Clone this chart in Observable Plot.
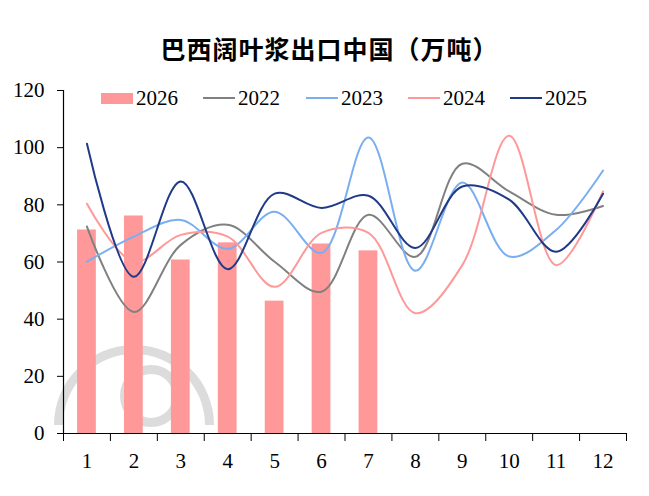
<!DOCTYPE html>
<html>
<head>
<meta charset="utf-8">
<script src="https://cdn.jsdelivr.net/npm/d3@7"></script>
<script src="https://cdn.jsdelivr.net/npm/@observablehq/plot@0.6"></script>
<style>
  html, body { margin: 0; padding: 0; background: white; }
  #wrap { position: relative; width: 649px; height: 496px; overflow: hidden; }
  #title { height: 70px; padding-top: 35px; line-height: 26px; font-family: "Noto Sans CJK SC", sans-serif; font-weight: bold; font-size: 25px; letter-spacing: 1px; text-align: center; padding-left: 10px; box-sizing: border-box; color: #000; position: relative; z-index: 2; }
  .wm { position: absolute; border-style: solid; border-radius: 50%; z-index: 0; box-sizing: border-box; }
  #wm1 { left: 54px; top: 345px; width: 160px; height: 160px; border-width: 9px; border-color: rgba(205,205,205,0.7) rgba(205,205,205,0.7) transparent transparent; transform: rotate(-45deg); }
  #wm2 { left: 120px; top: 365px; width: 62px; height: 62px; border-width: 9px; border-color: rgba(205,205,205,0.7); }
  #chart { position: relative; z-index: 1; }
  #chart svg { background: transparent !important; }
  #legend { position: absolute; top: 86px; left: 0; width: 649px; height: 24px; z-index: 2; font-family: "Liberation Serif", "Times New Roman", serif; font-size: 21px; color: #000; }
  .item { position: absolute; top: 0; height: 24px; display: flex; align-items: center; }
  .sw { width: 32px; margin-right: 3px; }
</style>
</head>
<body>
<div id="wrap">
  <div id="title">巴西阔叶浆出口中国（万吨）</div>
  <div class="wm" id="wm1"></div>
  <div class="wm" id="wm2"></div>
  <div id="legend"></div>
  <div id="chart"></div>
</div>
<script>
const months = [1,2,3,4,5,6,7,8,9,10,11,12];
const seriesNames = ["2026","2022","2023","2024","2025"];
const colors = ["#FF9999","#808080","#7AAEF0","#FF9999","#1F3A87"];
const v2026 = [71.2, 76.1, 60.7, 66.7, 46.3, 66.3, 63.9];
const v2022 = [72.4, 42.5, 66.0, 73.0, 60.1, 49.6, 76.5, 61.8, 94.4, 84.7, 76.5, 79.6];
const v2023 = [60.1, 68.9, 74.7, 64.6, 77.6, 63.2, 103.6, 56.9, 87.8, 61.9, 71.2, 92.0];
const v2024 = [80.4, 60.1, 69.5, 68.9, 51.3, 70.2, 70.2, 42.1, 58.9, 104.2, 58.9, 84.7];
const v2025 = [101.4, 54.8, 88.2, 57.5, 83.9, 78.9, 83.2, 64.9, 86.4, 81.8, 63.6, 83.9];
const yTicks = [0,20,40,60,80,100,120];

const barData = v2026.map((v,i) => ({month: months[i], value: v}));
const lineSeries = [
  {name: "2022", values: v2022, color: colors[1]},
  {name: "2023", values: v2023, color: colors[2]},
  {name: "2024", values: v2024, color: colors[3]},
  {name: "2025", values: v2025, color: colors[4]}
];
const halfBar = 0.2;
const boundaries = d3.range(months.length + 1).map(i => months[0] - 0.5 + i);

const marks = [
  Plot.rectY(barData, {x1: d => d.month - halfBar, x2: d => d.month + halfBar, y1: 0, y2: "value", fill: colors[0]}),
  ...lineSeries.map(s => Plot.line(s.values.map((v,i) => ({month: months[i], value: v})), {
    x: "month", y: "value", stroke: s.color, strokeWidth: 2, curve: "catmull-rom"
  })),
  Plot.ruleX([boundaries[0]], {stroke: "#000", strokeWidth: 1.2}),
  Plot.ruleY([0], {stroke: "#000", strokeWidth: 1.2}),
  Plot.axisY({ticks: yTicks, tickSize: 6, tickPadding: 13, tickFormat: d => d, fontSize: 21, stroke: "#000", label: null}),
  Plot.axisX({ticks: boundaries, tickSize: 8, tickFormat: () => "", stroke: "#000", label: null}),
  Plot.axisX({ticks: months, tickSize: 0, tickPadding: 20, tickFormat: d => d, fontSize: 21, label: null})
];

const chart = Plot.plot({
  width: 649,
  height: 426,
  marginTop: 20,
  marginBottom: 63,
  marginLeft: 63,
  marginRight: 23,
  style: {fontFamily: "'Liberation Serif', 'Times New Roman', serif", fontSize: "21px", color: "#000", background: "transparent"},
  x: {type: "linear", domain: [boundaries[0], boundaries[boundaries.length-1]], label: null},
  y: {domain: [0, 120], label: null},
  marks
});
document.getElementById("chart").appendChild(chart);

// legend
const legend = document.getElementById("legend");
const lefts = [101, 203, 306, 408, 510];
seriesNames.forEach((name, i) => {
  const it = document.createElement("div");
  it.className = "item";
  it.style.left = lefts[i] + "px";
  const sw = document.createElement("div");
  sw.className = "sw";
  sw.style.height = i === 0 ? "11px" : "2px";
  sw.style.background = colors[i];
  const tx = document.createElement("span");
  tx.textContent = name;
  it.appendChild(sw); it.appendChild(tx);
  legend.appendChild(it);
});
</script>
</body>
</html>
